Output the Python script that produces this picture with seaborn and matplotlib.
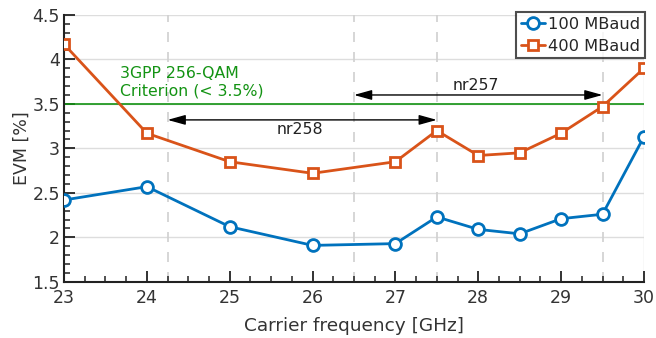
import matplotlib
matplotlib.use("Agg")
import matplotlib.pyplot as plt
import seaborn as sns
import pandas as pd
from matplotlib.ticker import MultipleLocator, FuncFormatter

freq = [23, 24, 25, 26, 27, 27.5, 28, 28.5, 29, 29.5, 30]
evm_100 = [2.42, 2.57, 2.12, 1.91, 1.93, 2.23, 2.09, 2.04, 2.21, 2.26, 3.13]
evm_400 = [4.17, 3.17, 2.85, 2.72, 2.85, 3.20, 2.92, 2.95, 3.17, 3.47, 3.90]
series_names = ["100 MBaud", "400 MBaud"]
criterion = 3.5
nr258 = (24.25, 27.5)
nr257 = (26.5, 29.5)

sns.set_theme(style="white")
plt.rcParams['font.family'] = ['DejaVu Sans']

fig = plt.figure(figsize=(6.56, 3.38), dpi=100)
ax = fig.add_axes([0.0976, 0.166, 0.884, 0.79])

df = pd.DataFrame({"f": freq * 2, "evm": evm_100 + evm_400,
                   "s": [series_names[0]] * len(freq) + [series_names[1]] * len(freq)})

colors = {"100 MBaud": "#0072BD", "400 MBaud": "#D95319"}
markers = {"100 MBaud": "o", "400 MBaud": "s"}
for name in series_names:
    sub = df[df.s == name]
    sns.lineplot(data=sub, x="f", y="evm", ax=ax, color=colors[name], marker=markers[name],
                 markersize=8.5 if markers[name] == "o" else 7.5, markerfacecolor="white",
                 markeredgecolor=colors[name], markeredgewidth=2, linewidth=2,
                 label=name, zorder=5)

ax.set_xlim(23, 30)
ax.set_ylim(1.5, 4.5)
ax.xaxis.set_major_locator(MultipleLocator(1))
ax.xaxis.set_minor_locator(MultipleLocator(0.25))
ax.yaxis.set_major_locator(MultipleLocator(0.5))
ax.yaxis.set_minor_locator(MultipleLocator(0.1))
ax.yaxis.set_major_formatter(FuncFormatter(lambda v, p: f"{v:g}"))

# grid
for yv in [2, 2.5, 3, 3.5, 4, 4.5]:
    ax.axhline(yv, color="#dddddd", lw=1, zorder=0)
ax.axvline(30, color="#dddddd", lw=1, zorder=0)
for xv in [nr258[0], nr257[0], nr258[1], nr257[1]]:
    ax.axvline(xv, color="#d0d0d0", lw=1.2, ls=(0, (6, 6)), zorder=0)

green = "#139313"
ax.axhline(criterion, color=green, lw=1.2, zorder=2)
ax.text(23.68, 3.74, "3GPP 256-QAM\nCriterion (< 3.5%)", color=green, fontsize=11.3,
        va="center", ha="left", linespacing=1.2)

arrow_kw = dict(arrowstyle="<|-|>,head_length=0.9,head_width=0.25", color="black", lw=1,
                mutation_scale=12, shrinkA=0, shrinkB=0, fc="black")
ax.annotate("", xy=(nr258[0], 3.32), xytext=(nr258[1], 3.32), arrowprops=arrow_kw, zorder=3)
ax.annotate("", xy=(nr257[0], 3.60), xytext=(nr257[1], 3.60), arrowprops=arrow_kw, zorder=3)
ax.text(25.85, 3.21, "nr258", fontsize=11.3, ha="center", va="center", color="#222222")
ax.text(27.97, 3.71, "nr257", fontsize=11.3, ha="center", va="center", color="#222222")

for s in ["top", "right"]:
    ax.spines[s].set_visible(False)
for s in ["left", "bottom"]:
    ax.spines[s].set_color("#222222")
    ax.spines[s].set_linewidth(1.5)
ax.tick_params(which="both", bottom=True, left=True, top=False, right=False)
ax.tick_params(which="major", direction="in", length=8, width=1.3, colors="#222222",
               labelsize=12.5, labelcolor="#333333")
ax.tick_params(which="minor", direction="in", length=4, width=1.1, colors="#222222")
ax.tick_params(axis="x", pad=5)
ax.tick_params(axis="y", pad=3)

ax.set_xlabel("Carrier frequency [GHz]", fontsize=13.3, color="#333333", labelpad=7)
ax.set_ylabel("EVM [%]", fontsize=12.5, color="#333333", labelpad=1)

leg = ax.legend(loc="upper right", bbox_to_anchor=(1.002, 1.01), fontsize=11.7,
                frameon=True, fancybox=False, handlelength=1.45, handletextpad=0.2,
                borderpad=0.3, labelspacing=0.4, borderaxespad=0.0)
leg.get_frame().set_edgecolor("#222222")
leg.get_frame().set_linewidth(1.5)
leg.set_zorder(10)

fig.savefig("out.png", dpi=100)
